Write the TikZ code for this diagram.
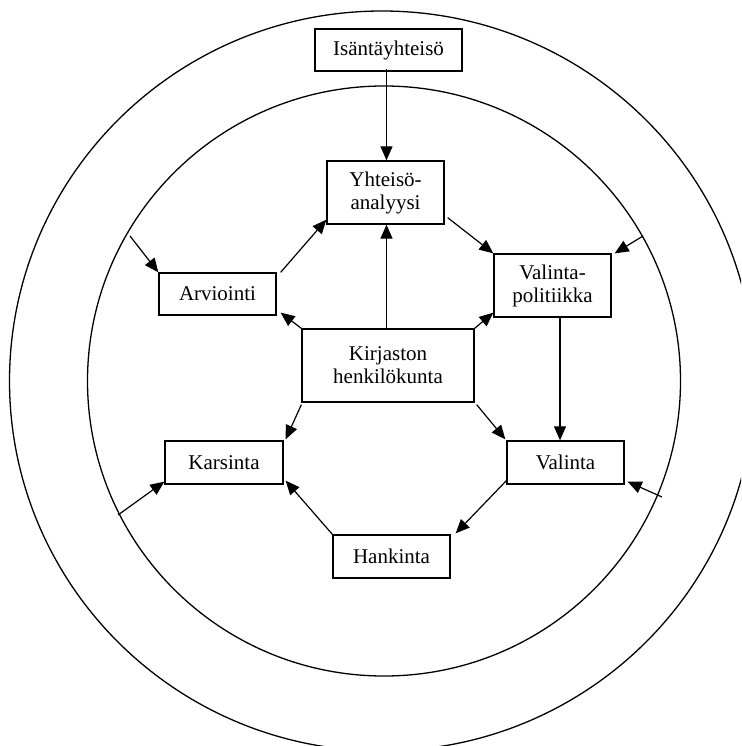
\documentclass[tikz,border=0pt]{standalone}
\usepackage{fontspec}
\setmainfont{Liberation Serif}
\usetikzlibrary{arrows.meta}
\begin{document}
\begin{tikzpicture}[x=1pt,y=-1pt,
  box/.style={draw,line width=1.3pt,inner sep=0pt,align=center,
    font=\fontsize{21}{23}\selectfont},
  arr/.style={line width=1.2pt,-{Triangle[length=14pt,width=12pt]}},
  ring/.style={line width=1.3pt}]
\useasboundingbox (0,0) rectangle (741,746);
\clip (0,0) rectangle (741,746);
\draw[ring] (382,381) ellipse [x radius=372.5, y radius=370];
\draw[ring] (384,381) ellipse [x radius=296.5, y radius=295];

\node[box,minimum width=147pt,minimum height=42pt] (isa) at (388.5,50) {Isäntäyhteisö};
\node[box,minimum width=117pt,minimum height=63pt] (yht) at (385.5,192.5) {Yhteisö-\\analyysi};
\node[box,minimum width=117pt,minimum height=42pt] (arv) at (217.5,294) {Arviointi};
\node[box,minimum width=117pt,minimum height=63pt] (vp) at (552.5,285.5) {Valinta-\\politiikka};
\node[box,minimum width=172pt,minimum height=73pt] (kir) at (388,365.5) {Kirjaston\\henkilökunta};
\node[box,minimum width=118pt,minimum height=43pt] (kar) at (224,462.5) {Karsinta};
\node[box,minimum width=117pt,minimum height=43pt] (val) at (565.5,462.5) {Valinta};
\node[box,minimum width=117pt,minimum height=43pt] (han) at (391.5,556.5) {Hankinta};

\coordinate (e1) at (130,236);
\coordinate (e2) at (643,236);
\coordinate (e3) at (118,515);
\coordinate (e4) at (662,497);

\draw[arr] ([shift={(-2,-3)}]isa.south) -- ([xshift=1pt]yht.north);
\draw[arr] ([xshift=-1.5pt]kir.north) -- ([xshift=1pt]yht.south);
\draw[arr] ([shift={(4,0)}]arv.north east) -- ([shift={(0,-5)}]yht.south west);
\draw[arr] ([shift={(3,-7)}]yht.south east) -- (vp.north west);
\draw[arr] (kir.north west) -- ([shift={(4,-3)}]arv.south east);
\draw[arr] (kir.north east) -- ([shift={(0,-5)}]vp.south west);
\draw[arr] ([xshift=7.5pt]vp.south) -- ([xshift=-5.5pt]val.north);
\draw[arr] ([shift={(0,2)}]kir.south west) -- ([shift={(2,-1)}]kar.north east);
\draw[arr] ([shift={(2,2)}]kir.south east) -- ([shift={(-1,-1)}]val.north west);
\draw[arr] ([shift={(0,-4)}]val.south west) -- ([shift={(5,-1)}]han.north east);
\draw[arr] (han.north west) -- ([shift={(2,-4)}]kar.south east);
\draw[arr] (e1) -- (arv.north west);
\draw[arr] (e2) -- ([xshift=3pt]vp.north east);
\draw[arr] (e3) -- ([yshift=3pt]kar.south west);
\draw[arr] (e4) -- ([shift={(3,-3)}]val.south east);
\end{tikzpicture}
\end{document}
